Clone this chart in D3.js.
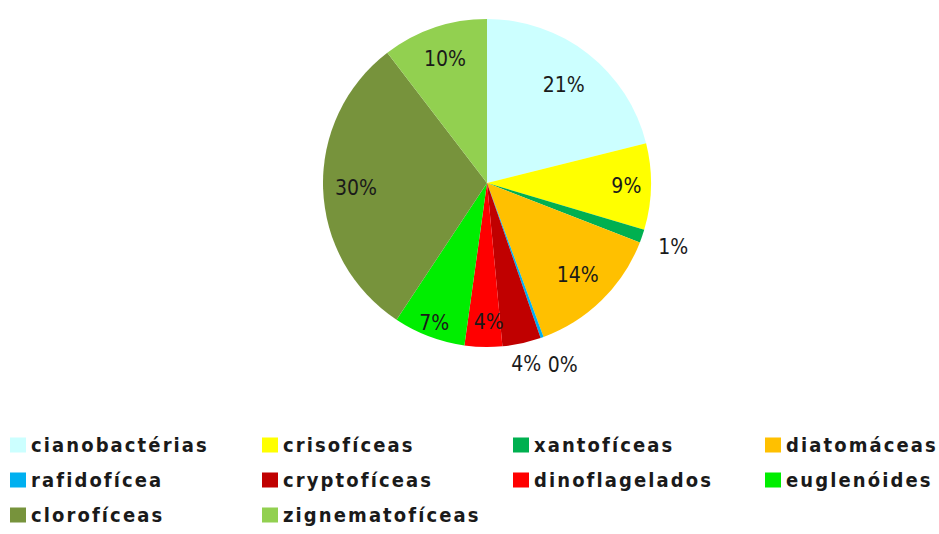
<!DOCTYPE html>
<html>
<head>
<meta charset="utf-8">
<script src="https://cdn.jsdelivr.net/npm/d3@7"></script>
<style>
  body { margin: 0; background: white; }
</style>
</head>
<body>
<div id="container"></div>
<script>
// categories + values (percent)
let categories = ["cianobactérias", "crisofíceas", "xantofíceas", "diatomáceas", "rafidofícea",
  "cryptofíceas", "dinoflagelados", "euglenóides", "clorofíceas", "zignematofíceas"];
let values = [21.1, 8.5, 1.3, 13.5, 0.3, 3.8, 3.7, 7.1, 30.3, 10.4];
let colors = ["#ccffff", "#ffff00", "#00b050", "#ffc000", "#00b0f0",
  "#c00000", "#ff0000", "#00ee00", "#77933c", "#92d050"];

// where each label sits: fraction of radius, and small angle nudge (degrees)
let labelRadius = [0.76, 0.85, 1.2, 0.79, 1.2, 1.13, 0.85, 0.91, 0.8, 0.8];
let labelNudge = [0, 0, 0, 0, -3, 0, -2, 0, 0, 0];

let w = 939;
let h = 534;
let cx = 487;
let cy = 183;
let r = 164;

let viz = d3.select("#container")
  .append("svg")
  .attr("width", w)
  .attr("height", h)
  .style("background-color", "white");

let data = categories.map((c, i) => ({
  name: c, value: values[i], color: colors[i], lr: labelRadius[i], nudge: labelNudge[i] * Math.PI / 180
}));

let pie = d3.pie().value(d => d.value).sort(null);
let arcs = pie(data);
let arc = d3.arc().innerRadius(0).outerRadius(r);

function labelAngle(d) {
  return (d.startAngle + d.endAngle) / 2 + d.data.nudge;
}

let pieGroup = viz.append("g").attr("transform", "translate(" + cx + "," + cy + ")");

pieGroup.selectAll(".slice").data(arcs).enter()
  .append("path")
  .attr("class", "slice")
  .attr("d", arc)
  .attr("fill", d => d.data.color);

pieGroup.selectAll(".label").data(arcs).enter()
  .append("text")
  .attr("class", "label")
  .text(d => Math.round(d.data.value) + "%")
  .attr("x", d => Math.sin(labelAngle(d)) * r * d.data.lr)
  .attr("y", d => -Math.cos(labelAngle(d)) * r * d.data.lr)
  .attr("text-anchor", "middle")
  .attr("dominant-baseline", "central")
  .attr("font-family", "DejaVu Sans Condensed, DejaVu Sans")
  .attr("font-size", "21px")
  .attr("fill", "#1a1a1a");

// legend, 4 columns
let colX = [10, 262, 513, 765];
let rowY = [445, 480, 515];

let legend = viz.append("g").attr("class", "legend");
let items = legend.selectAll(".item").data(data).enter()
  .append("g")
  .attr("class", "item")
  .attr("transform", (d, i) => "translate(" + colX[i % 4] + "," + rowY[Math.floor(i / 4)] + ")");

items.append("rect")
  .attr("x", 0)
  .attr("y", -7.5)
  .attr("width", 16)
  .attr("height", 15)
  .attr("fill", d => d.color);

items.append("text")
  .text(d => d.name)
  .attr("x", 21)
  .attr("y", 0)
  .attr("dominant-baseline", "central")
  .attr("font-family", "DejaVu Sans Condensed, DejaVu Sans")
  .attr("font-size", "20px")
  .attr("font-weight", "bold")
  .attr("letter-spacing", "2.1px")
  .attr("fill", "#1a1a1a");
</script>
</body>
</html>
